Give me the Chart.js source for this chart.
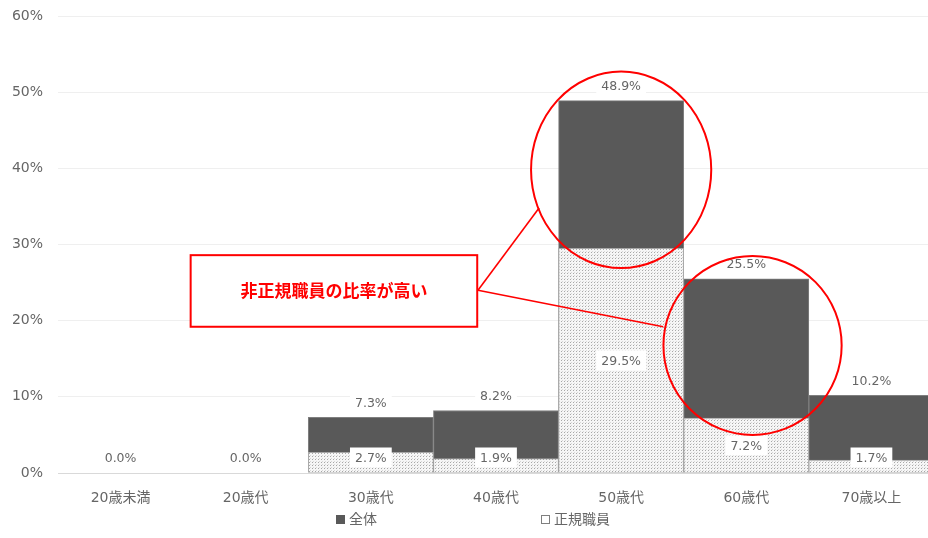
<!DOCTYPE html>
<html lang="ja">
<head>
<meta charset="utf-8">
<script src="https://cdn.jsdelivr.net/npm/chart.js@4.4.1/dist/chart.umd.min.js"></script>
<style>
  html, body { margin: 0; padding: 0; background: #fff; overflow: hidden; }
  #wrap { position: relative; width: 934px; height: 538px; }
  #legend { position: absolute; top: 511px; left: 0; width: 928px; height: 20px;
            font: 14px "DejaVu Sans", "Noto Sans CJK JP", sans-serif; color: #666666; }
  .item { position: absolute; top: 0; white-space: nowrap; line-height: 17px; }
  .sw { display: inline-block; width: 9px; height: 9px; margin-right: 4px; box-sizing: border-box; }
</style>
</head>
<body>
<div id="wrap">
  <canvas id="chart" width="934" height="538"></canvas>
  <div id="legend"></div>
</div>
<script>
// data
const categories = ['20歳未満', '20歳代', '30歳代', '40歳代', '50歳代', '60歳代', '70歳以上'];
const totalValues = [0.0, 0.0, 7.3, 8.2, 48.9, 25.5, 10.2];     // 全体
const regularValues = [0.0, 0.0, 2.7, 1.9, 29.5, 7.2, 1.7];     // 正規職員
const yTicks = [0, 10, 20, 30, 40, 50, 60];

const FONT = '"DejaVu Sans", "Noto Sans CJK JP", sans-serif';
const GRAY_TEXT = '#666666';

// annotation, in data units (x = category index, y = %)
const noteText = '非正規職員の比率が高い';
const noteBox = { x0: 0.56, x1: 2.85, y0: 28.6, y1: 19.2 };
const noteCircles = [
  { cx: 4.0, cy: 39.8, rx: 0.72, ry: 12.9 },
  { cx: 5.05, cy: 16.75, rx: 0.712, ry: 11.75 }
];
const noteLines = [
  { x0: 2.856, y0: 24.0, x1: 3.344, y1: 34.8 },
  { x0: 2.856, y0: 24.0, x1: 4.336, y1: 19.2 }
];

function dotPattern() {
  const c = document.createElement('canvas');
  c.width = 3; c.height = 3;
  const g = c.getContext('2d');
  g.fillStyle = '#f6f6f6';
  g.fillRect(0, 0, 3, 3);
  g.fillStyle = '#a8a8a8';
  g.fillRect(0, 0, 1, 1);
  g.fillStyle = '#d8d8d8';
  g.fillRect(1, 2, 1, 1);
  return g.createPattern(c, 'repeat');
}

// value labels with white boxes
const valueLabels = {
  id: 'valueLabels',
  afterDatasetsDraw(chart) {
    const ctx = chart.ctx;
    ctx.save();
    ctx.font = '12.5px ' + FONT;
    ctx.textAlign = 'center';
    ctx.textBaseline = 'middle';
    chart.data.datasets.forEach((ds, di) => {
      const meta = chart.getDatasetMeta(di);
      meta.data.forEach((bar, i) => {
        const v = ds.data[i];
        let cy;
        if (ds.labelAt === 'end') {
          cy = bar.y - 15;
        } else {
          if (v === 0) return;
          cy = Math.min((bar.y + bar.base) / 2, bar.base - 15);
        }
        const txt = v.toFixed(1) + '%';
        const w = ctx.measureText(txt).width + 10;
        ctx.fillStyle = '#ffffff';
        ctx.fillRect(bar.x - w / 2, cy - 10, w, 20);
        ctx.fillStyle = GRAY_TEXT;
        ctx.fillText(txt, bar.x, cy + 1);
      });
    });
    ctx.restore();
  }
};

// red callouts
const callouts = {
  id: 'callouts',
  afterDraw(chart) {
    const { ctx, scales: { x, y } } = chart;
    const px = v => x.getPixelForValue(v);
    const py = v => y.getPixelForValue(v);
    const catW = px(1) - px(0);
    const unitH = py(0) - py(1);
    ctx.save();
    ctx.strokeStyle = '#ff0000';
    ctx.lineWidth = 2;
    noteCircles.forEach(c => {
      ctx.beginPath();
      ctx.ellipse(px(c.cx), py(c.cy), c.rx * catW, c.ry * unitH, 0, 0, Math.PI * 2);
      ctx.stroke();
    });
    ctx.lineWidth = 1.6;
    noteLines.forEach(l => {
      ctx.beginPath();
      ctx.moveTo(px(l.x0), py(l.y0));
      ctx.lineTo(px(l.x1), py(l.y1));
      ctx.stroke();
    });
    const bx0 = px(noteBox.x0), bx1 = px(noteBox.x1);
    const by0 = py(noteBox.y0), by1 = py(noteBox.y1);
    ctx.fillStyle = '#ffffff';
    ctx.fillRect(bx0, by0, bx1 - bx0, by1 - by0);
    ctx.lineWidth = 2;
    ctx.strokeRect(bx0, by0, bx1 - bx0, by1 - by0);
    ctx.fillStyle = '#ff0000';
    ctx.font = 'bold 17px "Noto Sans CJK JP", sans-serif';
    ctx.textAlign = 'center';
    ctx.textBaseline = 'middle';
    ctx.fillText(noteText, (bx0 + bx1) / 2, (by0 + by1) / 2);
    ctx.restore();
  }
};

const datasets = [
  {
    label: '正規職員',
    data: regularValues,
    backgroundColor: dotPattern(),
    borderColor: '#a6a6a6',
    borderWidth: 1,
    grouped: false,
    labelAt: 'center',
    legendColor: '#ffffff',
    legendBorder: '#7f7f7f'
  },
  {
    label: '全体',
    data: totalValues,
    backgroundColor: '#595959',
    borderColor: '#7f7f7f',
    borderWidth: 1,
    grouped: false,
    labelAt: 'end',
    legendColor: '#595959',
    legendBorder: '#595959'
  }
];

new Chart(document.getElementById('chart'), {
  type: 'bar',
  data: { labels: categories, datasets: datasets },
  options: {
    responsive: false,
    animation: false,
    barPercentage: 1,
    categoryPercentage: 1,
    layout: { padding: { left: 10, top: 0, right: 0, bottom: 33 } },
    plugins: { legend: { display: false }, tooltip: { enabled: false } },
    scales: {
      x: {
        grid: { display: false, drawTicks: false },
        border: { display: true, color: '#d9d9d9' },
        ticks: { padding: 17, color: GRAY_TEXT, font: { size: 14, family: FONT } },
        afterFit: s => { s.height = 32; }
      },
      y: {
        min: yTicks[0],
        max: yTicks[yTicks.length - 1],
        afterBuildTicks: s => { s.ticks = yTicks.map(v => ({ value: v })); },
        ticks: { callback: v => v + '%', padding: 15, color: GRAY_TEXT, font: { size: 14, family: FONT } },
        grid: { color: '#efefef', drawTicks: false },
        border: { display: false },
        afterFit: s => { s.width = 48; s.paddingTop = 16; s.paddingBottom = 8; }
      }
    }
  },
  plugins: [valueLabels, callouts]
});

// legend (全体 first, as in the source)
const legendPos = { '全体': 336, '正規職員': 541 };
const legendEl = document.getElementById('legend');
datasets.slice().reverse().forEach(ds => {
  const item = document.createElement('span');
  item.className = 'item';
  item.style.left = legendPos[ds.label] + 'px';
  const sw = document.createElement('span');
  sw.className = 'sw';
  sw.style.background = ds.legendColor;
  sw.style.border = '1px solid ' + ds.legendBorder;
  item.appendChild(sw);
  item.appendChild(document.createTextNode(ds.label));
  legendEl.appendChild(item);
});
</script>
</body>
</html>
